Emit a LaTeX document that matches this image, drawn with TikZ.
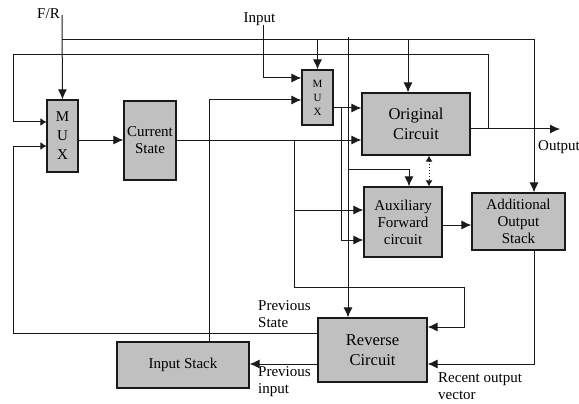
\documentclass[tikz,border=0pt]{standalone}
\usepackage{fontspec}
\setmainfont{Liberation Serif}
\usetikzlibrary{arrows.meta,positioning,calc}
\definecolor{ink}{HTML}{1A1A1A}
\definecolor{blockgray}{HTML}{C0C0C0}
\tikzset{
  block/.style={draw=ink,fill=blockgray,line width=1.2pt,
                align=center,inner sep=1pt,font=\fontsize{15}{17}\selectfont},
  bigblock/.style={block,font=\fontsize{16.5}{20}\selectfont},
  muxbox/.style={block,font=\fontsize{15}{19}\selectfont},
  smallmux/.style={block,font=\fontsize{11}{14}\selectfont},
  lbl/.style={align=left,inner sep=0pt,font=\fontsize{15}{17}\selectfont},
  wire/.style={line width=1pt,draw=ink},
  flowarr/.style={-{Latex[length=10pt,width=9pt]},line width=1pt,draw=ink},
  sidearr/.style={-{Latex[length=6pt,width=8pt]},line width=1pt,draw=ink},
  dotarr/.style={{Latex[length=6pt,width=7pt]}-{Latex[length=6pt,width=7pt]},
                 dotted,line width=1pt,draw=ink}
}

\begin{document}
\begin{tikzpicture}[x=1pt,y=-1pt]
  \useasboundingbox (0,0) rectangle (579,404);
  % blocks
  \node[muxbox,minimum width=31pt,minimum height=72pt] (mux1) at (62.5,136) {M\\U\\X};
  \node[block,minimum width=52pt,minimum height=79pt] (cs) at (150,140.5) {Current\\State};
  \node[smallmux,minimum width=31pt,minimum height=55pt] (mux2) at (317.5,97.5) {M\\U\\X};
  \node[bigblock,minimum width=108pt,minimum height=62pt] (orig) at (416,124) {Original\\Circuit};
  \node[block,minimum width=78pt,minimum height=70pt] (aux) at (403,222) {Auxiliary\\Forward\\circuit};
  \node[block,minimum width=93pt,minimum height=57pt] (aos) at (518.5,221.5) {Additional\\Output\\Stack};
  \node[bigblock,minimum width=109pt,minimum height=64pt] (rev) at (372.5,350) {Reverse\\Circuit};
  \node[block,minimum width=132pt,minimum height=46pt] (istack) at (183,365) {Input Stack};
  % labels
  \node[lbl] (frlbl) at (48.5,14) {F/R};
  \node[lbl] (inlbl) at (259.5,19) {Input};
  \node[lbl,anchor=west] (outlbl) at (538,147) {Output};
  \node[lbl,anchor=west] (pslbl) at (258,314) {Previous\\State};
  \node[lbl,anchor=west] (pilbl) at (258,382) {Previous\\input};
  \node[lbl,anchor=west] (rolbl) at (438,386) {Recent output\\vector};
  % junctions and free ends
  \coordinate (frtop) at (62,15);
  \coordinate (frbus) at (62,40);
  \coordinate (intop) at (263,25);
  \coordinate (outend) at (560,129);
  \coordinate (fbtap) at (488,129);
  \coordinate (fbleft) at (13,55);
  \coordinate (psleft) at (13,146);
  \coordinate (cstap) at (294,140);
  \coordinate (csbend) at (464,287);
  \coordinate (muxtap) at (341,108);
  \coordinate (revtap) at (348,37);
  % F/R lines
  \draw[flowarr] (frtop) -- (mux1.north);
  \draw[flowarr] (frbus) -| (aos.north -| 534,0);
  \draw[flowarr] (mux2.north |- frbus) -- (mux2.north);
  \draw[flowarr] (frbus -| 408,0) -- (orig.north -| 408,0);
  \draw[flowarr] (revtap) -- (rev.north -| revtap);
  \draw[flowarr] (revtap |- 0,169) -| (aux.north -| 409,0);
  % output and feedback
  \draw[flowarr] (orig.east |- outend) -- (outend);
  \draw[sidearr] (fbtap) |- (fbleft) |- (mux1.west |- 0,122);
  \draw[sidearr] (rev.west |- 0,333) -| (psleft) -- (mux1.west |- psleft);
  % state path
  \draw[flowarr] (mux1.east |- 0,140) -- (cs.west |- 0,140);
  \draw[flowarr] (cs.east |- cstap) -- (orig.west |- cstap);
  \draw[flowarr] (cstap) |- (csbend) |- (rev.east |- 0,327);
  \draw[flowarr] (cstap |- 0,210) -- (aux.west |- 0,210);
  % inputs
  \draw[flowarr] (intop) |- (mux2.west |- 0,78);
  \draw[flowarr] (istack.north -| 209,0) |- (mux2.west |- 0,100);
  \draw[flowarr] (mux2.east |- muxtap) -- (orig.west |- muxtap);
  \draw[flowarr] (muxtap) |- (aux.west |- 0,240);
  \draw[dotarr] (orig.south -| 429,0) -- (aux.north -| 429,0);
  % stacks
  \draw[flowarr] (aux.east |- 0,225) -- (aos.west |- 0,225);
  \draw[flowarr] (aos.south -| 534,0) |- (rev.east |- 0,364);
  \draw[flowarr] (rev.west |- 0,364) -- (istack.east |- 0,364);
\end{tikzpicture}
\end{document}
